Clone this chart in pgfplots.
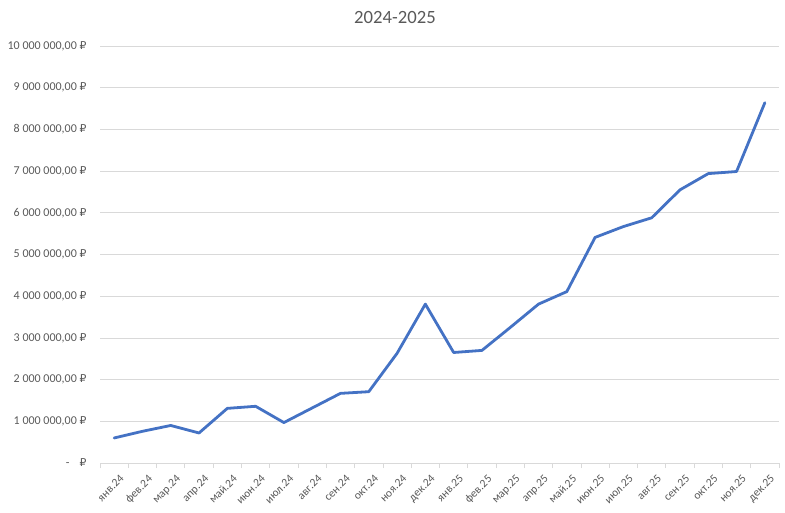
\documentclass[border=0pt]{standalone}
\usepackage{fontspec}
\setmainfont{Carlito}
\newfontfamily\rubfont[Scale=0.9]{DejaVu Sans}
\newcommand{\rub}{{\rubfont ₽}}
\usepackage{pgfplots}
\pgfplotsset{compat=1.18}
\definecolor{xlblue}{HTML}{4472C4}
\definecolor{xlgrid}{HTML}{D9D9D9}
\definecolor{xltext}{HTML}{595959}
\begin{document}
\begin{tikzpicture}[x=1pt,y=1pt]
\useasboundingbox (0,0) rectangle (785,512);
\node[font=\fontsize{18.7}{22}\selectfont, text=xltext] at (395,494) {2024-2025};
\begin{axis}[
  at={(100pt,49pt)}, anchor=south west,
  scale only axis, width=679pt, height=417pt,
  xmin=-0.5, xmax=23.5, ymin=0, ymax=10000000,
  axis lines*=left,
  x axis line style={draw=xlgrid, line width=0.8pt},
  y axis line style={draw=none},
  ymajorgrids, grid style={draw=xlgrid, line width=0.8pt},
  major tick length=0pt,
  minor tick length=5pt,
  tick align=outside,
  minor xtick={-0.5,0.5,...,23.5},
  minor tick style={draw=xlgrid, line width=0.8pt},
  xtick=data,
  xticklabels={янв.24,фев.24,мар.24,апр.24,май.24,июн.24,июл.24,авг.24,сен.24,окт.24,ноя.24,дек.24,
               янв.25,фев.25,мар.25,апр.25,май.25,июн.25,июл.25,авг.25,сен.25,окт.25,ноя.25,дек.25},
  xticklabel style={rotate=45, anchor=north east, font=\fontsize{11.5}{13}\selectfont, text=xltext, xshift=-1pt, yshift=-8pt},
  scaled y ticks=false,
  ytick={0,1000000,2000000,3000000,4000000,5000000,6000000,7000000,8000000,9000000,10000000},
  yticklabels={{-\hspace{10pt}\rub}, {1 000 000,00 \rub}, {2 000 000,00 \rub}, {3 000 000,00 \rub},
               {4 000 000,00 \rub}, {5 000 000,00 \rub}, {6 000 000,00 \rub}, {7 000 000,00 \rub},
               {8 000 000,00 \rub}, {9 000 000,00 \rub}, {10 000 000,00 \rub}},
  yticklabel style={font=\fontsize{12}{14}\selectfont, text=xltext, xshift=-10pt},
]
% monthly totals, rubles
\addplot[xlblue, line width=2.8pt, line join=round, line cap=round] coordinates {
  (0, 600000) (1, 760000) (2, 900000) (3, 720000) (4, 1310000) (5, 1360000)
  (6, 970000) (7, 1320000) (8, 1670000) (9, 1710000) (10, 2630000) (11, 3810000)
  (12, 2650000) (13, 2700000) (14, 3250000) (15, 3810000) (16, 4110000) (17, 5410000)
  (18, 5670000) (19, 5880000) (20, 6550000) (21, 6940000) (22, 6990000) (23, 8640000)
};
\end{axis}
\end{tikzpicture}
\end{document}
